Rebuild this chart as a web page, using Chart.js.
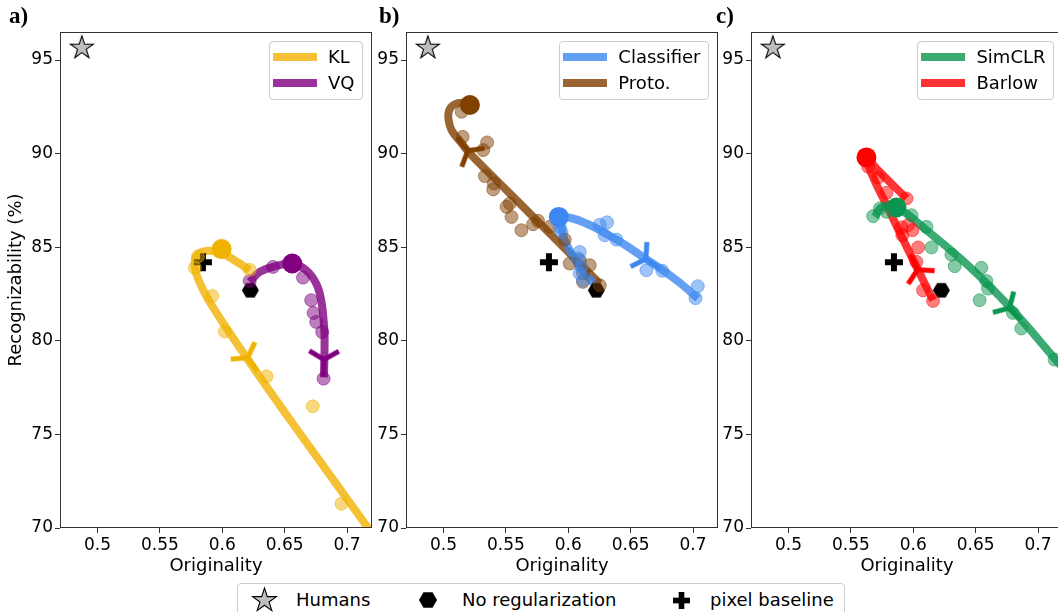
<!DOCTYPE html>
<html>
<head>
<meta charset="utf-8">
<script src="https://cdn.jsdelivr.net/npm/chart.js@4.4.1/dist/chart.umd.min.js"></script>
<style>
  html, body { margin: 0; padding: 0; background: #fff; overflow: hidden; width: 1058px; height: 612px; }
  #page { position: relative; width: 1058px; height: 612px; overflow: hidden; font-family: "DejaVu Sans", sans-serif; color: #000; }
  .panel { position: absolute; top: 0; }
  .tag { position: absolute; top: 4px; font: bold 23px "Liberation Serif", "Times New Roman", serif; line-height: 23px; }
  .leg { position: absolute; background: rgba(255,255,255,0.8); border: 1px solid #cccccc; border-radius: 4px;
         padding: 1.7px 7px 3.3px 3px; font-size: 18px; white-space: nowrap; }
  .leg .row { display: flex; align-items: center; height: 26px; }
  .leg .sw { width: 44px; height: 8px; margin-right: 11.5px; flex: none; }
  #bottomLegend { position: absolute; left: 237px; top: 583px; width: 608px; height: 44px; box-sizing: border-box;
                  border: 1px solid #cccccc; border-radius: 4px; background: #fff; font-size: 18px; }
  #bottomLegend canvas, #bottomLegend span { position: absolute; }
  #bottomLegend span { line-height: 22px; white-space: nowrap; }
</style>
</head>
<body>
<div id="page">
  <canvas id="chartA" class="panel" width="378" height="580" style="left:0px"></canvas>
  <canvas id="chartB" class="panel" width="346" height="580" style="left:376px"></canvas>
  <canvas id="chartC" class="panel" width="345" height="580" style="left:722px"></canvas>
  <div class="tag" style="left:9px">a)</div>
  <div class="tag" style="left:379px">b)</div>
  <div class="tag" style="left:716px">c)</div>
  <div id="bottomLegend"></div>
</div>
<script>
// ---------------- axes ----------------
const xMin = 0.47, xMax = 0.72;
const yMin = 70, yMax = 96.5;
const xTickValues = [0.5, 0.55, 0.6, 0.65, 0.7];
const xTickLabels = ['0.5', '0.55', '0.6', '0.65', '0.7'];
const yTickValues = [70, 75, 80, 85, 90, 95];
const yTickLabels = ['70', '75', '80', '85', '90', '95'];

// ---------------- reference points (same in every panel) ----------------
const humansX = [0.4875], humansY = [95.65];
const noRegX  = [0.6225], noRegY  = [82.7];
const pixelX  = [0.5845], pixelY  = [84.2];

// ---------------- a) KL / VQ ----------------
const klLineX  = [0.622, 0.611, 0.599, 0.587, 0.5795, 0.578, 0.582, 0.5925, 0.6195, 0.6515, 0.686, 0.718, 0.73];
const klLineY  = [83.77, 84.25, 84.7, 84.8, 84.55, 84.0, 83.1, 81.8, 79.1, 76.05, 72.85, 69.9, 68.8];
const klDotsX  = [0.578, 0.5805, 0.592, 0.602, 0.622, 0.6355, 0.6725, 0.6955];
const klDotsY  = [83.9, 84.5, 82.4, 80.5, 83.8, 78.1, 76.5, 71.3];
const klBestX  = [0.5995], klBestY = [84.9];
const klArrowX = [0.6204], klArrowY = [79.1];

const vqLineX  = [0.622, 0.630, 0.6407, 0.656, 0.6673, 0.6753, 0.6793, 0.6812, 0.682, 0.6815];
const vqLineY  = [83.15, 83.68, 83.95, 84.13, 83.77, 83.06, 82.17, 81.1, 80.2, 78.05];
const vqDotsX  = [0.622, 0.6407, 0.6647, 0.6713, 0.6732, 0.6753, 0.6801, 0.6812];
const vqDotsY  = [83.2, 83.95, 83.38, 82.17, 81.49, 81.01, 80.47, 77.98];
const vqBestX  = [0.6561], vqBestY = [84.13];
const vqArrowX = [0.6815], vqArrowY = [79.0];

// ---------------- b) Classifier / Proto. ----------------
const clsLineX  = [0.6226, 0.6118, 0.6026, 0.5972, 0.5946, 0.5926, 0.603, 0.6146, 0.6278, 0.6438, 0.6598, 0.6758, 0.6918, 0.7038];
const clsLineY  = [82.97, 83.68, 84.67, 85.38, 86.0, 86.6, 86.55, 86.27, 85.82, 85.2, 84.48, 83.77, 82.97, 82.26];
const clsDotsX  = [0.5932, 0.5946, 0.6092, 0.6079, 0.6106, 0.6118, 0.6092, 0.6252, 0.6311, 0.6292, 0.6386, 0.6626, 0.6754, 0.7038, 0.702];
const clsDotsY  = [86.09, 85.82, 84.75, 84.4, 83.95, 83.24, 83.6, 86.2, 86.33, 85.64, 85.41, 83.77, 83.74, 82.92, 82.28];
const clsBestX  = [0.5924], clsBestY = [86.62];
const clsArrowX = [0.6622], clsArrowY = [84.37];

const protoLineX  = [0.6252, 0.6012, 0.5745, 0.5478, 0.5212, 0.5146, 0.5065, 0.504, 0.5045, 0.5085, 0.5158, 0.5212];
const protoLineY  = [83.06, 84.67, 86.45, 88.23, 90.01, 90.55, 91.26, 91.85, 92.3, 92.62, 92.72, 92.6];
const protoDotsX  = [0.5146, 0.5154, 0.5319, 0.535, 0.5332, 0.5404, 0.5399, 0.5506, 0.5532, 0.5545, 0.5625, 0.5718, 0.5758, 0.5852, 0.5972, 0.6012, 0.6092, 0.6172, 0.6118, 0.6118, 0.6252];
const protoDotsY  = [92.24, 90.9, 90.19, 90.6, 88.8, 88.41, 88.09, 87.16, 87.34, 86.62, 85.91, 86.23, 86.41, 86.09, 85.41, 84.13, 84.31, 84.04, 83.63, 83.15, 82.97];
const protoBestX  = [0.5212], protoBestY = [92.6];
const protoArrowX = [0.5195], protoArrowY = [90.15];

// ---------------- c) SimCLR / Barlow ----------------
const simLineX  = [0.5692, 0.5746, 0.5866, 0.6106, 0.6452, 0.6798, 0.7146, 0.735];
const simLineY  = [86.63, 87.13, 87.13, 85.91, 83.95, 81.63, 78.96, 77.4];
const simDotsX  = [0.5679, 0.5732, 0.5786, 0.5986, 0.6106, 0.6146, 0.6306, 0.6332, 0.6546, 0.6586, 0.6599, 0.6532, 0.6798, 0.6866, 0.7132];
const simDotsY  = [86.66, 87.07, 86.89, 86.71, 86.09, 84.99, 84.61, 83.99, 83.9, 83.2, 82.79, 82.17, 81.49, 80.66, 79.0];
const simBestX  = [0.5866], simBestY = [87.13];
const simArrowX = [0.677], simArrowY = [81.75];

const barLineX  = [0.6159, 0.6, 0.5786, 0.5665, 0.5632, 0.5705, 0.5946];
const barLineY  = [82.17, 84.3, 87.25, 88.95, 89.75, 89.2, 87.61];
const barDotsX  = [0.5639, 0.5719, 0.5786, 0.5946, 0.5906, 0.5958, 0.5994, 0.5913, 0.6039, 0.6025, 0.6079, 0.6159];
const barDotsY  = [89.3, 88.73, 87.91, 87.61, 86.06, 86.18, 85.91, 85.64, 84.99, 84.22, 82.7, 82.13];
const barBestX  = [0.5625], barBestY = [89.8];
const barArrowX = [0.6035], barArrowY = [83.8];

// ---------------- series styling ----------------
const zip = (xs, ys) => xs.map((x, i) => ({ x, y: ys[i] }));
const rgba = (c, a) => `rgba(${c[0]},${c[1]},${c[2]},${a})`;

const KL    = { label: 'KL',         rgb: [240, 178, 0],  lx: klLineX,    ly: klLineY,    dx: klDotsX,    dy: klDotsY,    bx: klBestX,    by: klBestY,    ax: klArrowX,    ay: klArrowY };
const VQ    = { label: 'VQ',         rgb: [128, 0, 128],  lx: vqLineX,    ly: vqLineY,    dx: vqDotsX,    dy: vqDotsY,    bx: vqBestX,    by: vqBestY,    ax: vqArrowX,    ay: vqArrowY };
const CLS   = { label: 'Classifier', rgb: [60, 135, 240], lx: clsLineX,   ly: clsLineY,   dx: clsDotsX,   dy: clsDotsY,   bx: clsBestX,   by: clsBestY,   ax: clsArrowX,   ay: clsArrowY };
const PROTO = { label: 'Proto.',     rgb: [128, 64, 0],   lx: protoLineX, ly: protoLineY, dx: protoDotsX, dy: protoDotsY, bx: protoBestX, by: protoBestY, ax: protoArrowX, ay: protoArrowY };
const SIM   = { label: 'SimCLR',     rgb: [10, 150, 80],  lx: simLineX,   ly: simLineY,   dx: simDotsX,   dy: simDotsY,   bx: simBestX,   by: simBestY,   ax: simArrowX,   ay: simArrowY };
const BAR   = { label: 'Barlow',     rgb: [255, 0, 0],    lx: barLineX,   ly: barLineY,   dx: barDotsX,   dy: barDotsY,   bx: barBestX,   by: barBestY,   ax: barArrowX,   ay: barArrowY };

// ---------------- marker sprites ----------------
function sprite(size, draw) {
  const c = document.createElement('canvas');
  c.width = size; c.height = size;
  draw(c.getContext('2d'), size / 2);
  return c;
}
// three-spoke arrow head; spoke 0 points along +x (direction of travel)
function triSprite(rgb) {
  const len = 17, lw = 5;
  return sprite(2 * (len + lw), (g, m) => {
    g.strokeStyle = rgba(rgb, 1); g.lineWidth = lw; g.lineCap = 'butt';
    g.beginPath();
    for (let k = 0; k < 3; k++) {
      const a = k * 2 * Math.PI / 3;
      g.moveTo(m, m); g.lineTo(m + len * Math.cos(a), m + len * Math.sin(a));
    }
    g.stroke();
  });
}
function starSprite(R) {
  return sprite(2 * R + 4, (g, m) => {
    g.beginPath();
    for (let k = 0; k < 10; k++) {
      const r = k % 2 ? R * 0.382 : R;
      const a = -Math.PI / 2 + k * Math.PI / 5;
      const px = m + r * Math.cos(a), py = m + r * Math.sin(a);
      k ? g.lineTo(px, py) : g.moveTo(px, py);
    }
    g.closePath();
    g.fillStyle = '#bfbfbf'; g.fill();
    g.lineWidth = 1.1; g.strokeStyle = '#000'; g.stroke();
  });
}
function hexSprite(R) {
  return sprite(2 * R + 2, (g, m) => {
    g.beginPath();
    for (let k = 0; k < 6; k++) {
      const a = k * Math.PI / 3;
      const px = m + R * Math.cos(a), py = m + R * Math.sin(a);
      k ? g.lineTo(px, py) : g.moveTo(px, py);
    }
    g.closePath(); g.fillStyle = '#000'; g.fill();
  });
}
function plusSprite(S) {
  return sprite(S + 2, (g, m) => {
    const t = S / 3;
    g.fillStyle = '#000';
    g.fillRect(m - S / 2, m - t / 2, S, t);
    g.fillRect(m - t / 2, m - S / 2, t, S);
  });
}

// direction of travel (screen degrees) of a curve at a given point
function heading(chart, pts, p) {
  const sx = chart.scales.x, sy = chart.scales.y;
  const P = q => [sx.getPixelForValue(q.x), sy.getPixelForValue(q.y)];
  const a = P(p);
  let best = 0, bestD = Infinity;
  for (let i = 0; i < pts.length - 1; i++) {
    const b0 = P(pts[i]), b1 = P(pts[i + 1]);
    const vx = b1[0] - b0[0], vy = b1[1] - b0[1];
    const t = Math.max(0, Math.min(1, ((a[0] - b0[0]) * vx + (a[1] - b0[1]) * vy) / (vx * vx + vy * vy)));
    const d = Math.hypot(b0[0] + t * vx - a[0], b0[1] + t * vy - a[1]);
    if (d < bestD) { bestD = d; best = i; }
  }
  const b0 = P(pts[best]), b1 = P(pts[best + 1]);
  return Math.atan2(b1[1] - b0[1], b1[0] - b0[0]) * 180 / Math.PI;
}

function datasetsFor(list) {
  const ds = [];
  list.forEach(s => {
    const line = zip(s.lx, s.ly);
    ds.push({ label: s.label, data: line, showLine: true, tension: 0.4, pointRadius: 0,
              borderColor: rgba(s.rgb, 0.8), borderWidth: 8, borderCapStyle: 'butt', borderJoinStyle: 'round',
              clip: 0, order: 50 });
    ds.push({ data: zip(s.dx, s.dy), pointRadius: 6.5, backgroundColor: rgba(s.rgb, 0.5),
              borderColor: rgba(s.rgb, 0.5), borderWidth: 1, order: 30 });
    ds.push({ data: zip(s.bx, s.by), pointRadius: 10, backgroundColor: rgba(s.rgb, 1), borderWidth: 0, order: 20 });
    ds.push({ data: zip(s.ax, s.ay), pointRadius: 10, pointStyle: triSprite(s.rgb),
              rotation: ctx => (ctx.raw ? heading(ctx.chart, line, ctx.raw) : 0), order: 10 });
  });
  ds.push({ data: zip(humansX, humansY), pointRadius: 10, pointStyle: starSprite(12), order: 40 });
  ds.push({ data: zip(noRegX, noRegY), pointRadius: 10, pointStyle: hexSprite(8.5), order: 40 });
  ds.push({ data: zip(pixelX, pixelY), pointRadius: 10, pointStyle: plusSprite(18), order: 40 });
  return ds;
}

// full box around the plotting area
const frame = {
  id: 'frame',
  afterDraw(chart) {
    const { left, top, right, bottom } = chart.chartArea;
    const g = chart.ctx;
    g.save();
    g.strokeStyle = '#333'; g.lineWidth = 1;
    g.strokeRect(Math.round(left) + 0.5, Math.round(top) + 0.5, Math.round(right - left) - 1, Math.round(bottom - top) - 1);
    g.restore();
  }
};

Chart.defaults.font.family = "'DejaVu Sans', sans-serif";
Chart.defaults.color = '#000';

function makePanel(canvasId, list, axisWidth, padRight, yTitle) {
  const canvas = document.getElementById(canvasId);
  const chart = new Chart(canvas, {
    type: 'scatter',
    data: { datasets: datasetsFor(list) },
    options: {
      responsive: false, animation: false, events: [], devicePixelRatio: 1,
      layout: { padding: { top: 32, right: padRight, bottom: 0, left: 0 }, autoPadding: false },
      plugins: { legend: { display: false }, tooltip: { enabled: false } },
      scales: {
        x: {
          type: 'linear', min: xMin, max: xMax,
          afterBuildTicks: s => { s.ticks = xTickValues.map(v => ({ value: v })); },
          afterFit: s => { s.height = 52; },
          ticks: { font: { size: 17 }, color: '#000', padding: 2, maxRotation: 0,
                   callback: (v, i) => xTickLabels[i] },
          grid: { drawOnChartArea: false, drawTicks: true, tickLength: 5, tickColor: '#333' },
          border: { display: false },
          title: { display: true, text: 'Originality', font: { size: 18 }, color: '#000', padding: { top: 0, bottom: 3 } }
        },
        y: {
          type: 'linear', min: yMin, max: yMax,
          afterBuildTicks: s => { s.ticks = yTickValues.map(v => ({ value: v })); },
          afterFit: s => { s.width = axisWidth; },
          ticks: { font: { size: 17 }, color: '#000', padding: 2,
                   callback: (v, i) => yTickLabels[i] },
          grid: { drawOnChartArea: false, drawTicks: true, tickLength: 5, tickColor: '#333' },
          border: { display: false },
          title: { display: yTitle, text: 'Recognizability (%)', font: { size: 18 }, color: '#000', padding: { top: 6, bottom: 0 } }
        }
      }
    },
    plugins: [frame]
  });

  // legend box in the upper right corner of the plotting area
  const area = chart.chartArea;
  const canvasLeft = parseFloat(canvas.style.left);
  const box = document.createElement('div');
  box.className = 'leg';
  box.style.top = (area.top + 9) + 'px';
  box.style.right = (1058 - (canvasLeft + area.right - 9.5)) + 'px';
  list.forEach(s => {
    const row = document.createElement('div');
    row.className = 'row';
    const sw = document.createElement('div');
    sw.className = 'sw';
    sw.style.background = rgba(s.rgb, 0.8);
    const tx = document.createElement('span');
    tx.textContent = s.label;
    row.appendChild(sw); row.appendChild(tx);
    box.appendChild(row);
  });
  document.getElementById('page').appendChild(box);
  return chart;
}

makePanel('chartA', [KL, VQ], 60, 6, true);
makePanel('chartB', [CLS, PROTO], 30, 4, false);
makePanel('chartC', [SIM, BAR], 29, 4, false);

// shared legend under the panels
(function () {
  const host = document.getElementById('bottomLegend');
  const left = 237, top = 583, midY = 600;
  const items = [
    { icon: starSprite(12.5), cx: 264, label: 'Humans', tx: 296 },
    { icon: hexSprite(9), cx: 428, label: 'No regularization', tx: 462 },
    { icon: plusSprite(17), cx: 681, label: 'pixel baseline', tx: 710 }
  ];
  items.forEach(it => {
    const c = it.icon;
    c.style.left = (it.cx - left - 1 - c.width / 2) + 'px';
    c.style.top = (midY - top - 1 - c.height / 2) + 'px';
    host.appendChild(c);
    const s = document.createElement('span');
    s.textContent = it.label;
    s.style.left = (it.tx - left - 1) + 'px';
    s.style.top = (midY - top - 1 - 11) + 'px';
    host.appendChild(s);
  });
})();
</script>
</body>
</html>
